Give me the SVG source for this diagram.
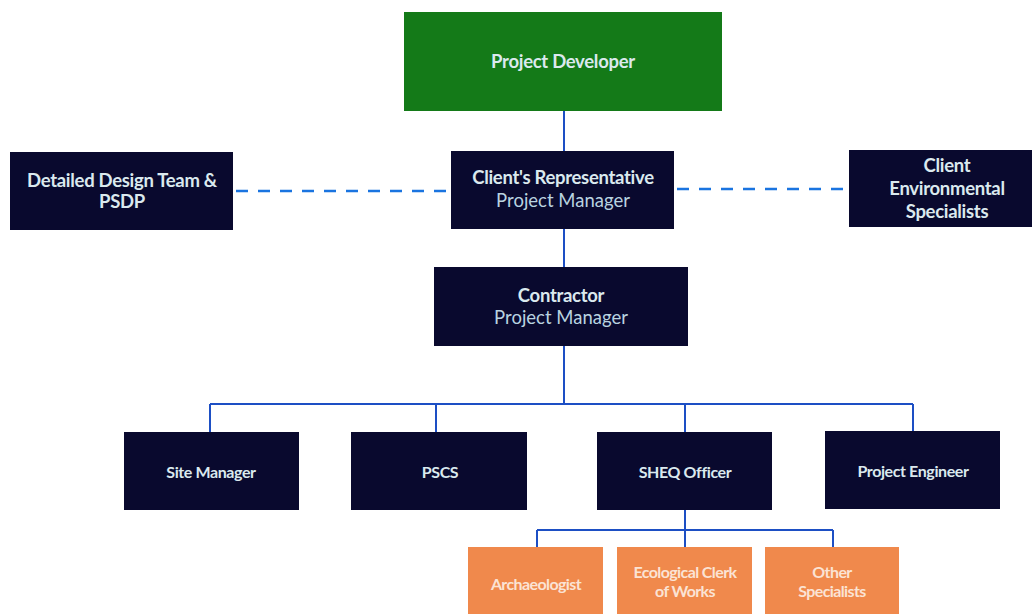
<svg xmlns="http://www.w3.org/2000/svg" width="1034" height="614" viewBox="0 0 1034 614">
<style>
.navy{fill:#09092e}
.green{fill:#147a18}
.orange{fill:#f0894c}
text{font-family:Lato,"Open Sans","Liberation Sans",sans-serif;text-anchor:middle;fill:#dbe9ee}
.b{font-weight:bold;font-size:18.5px;letter-spacing:-0.3px}
.r{font-size:18.5px;fill:#b9d3e0}
.s{font-weight:bold;font-size:16px;letter-spacing:-0.4px}
.o{font-weight:bold;font-size:16px;fill:#fbe3d4;letter-spacing:-0.6px}
.ln{stroke:#1d4fc4;stroke-width:2;fill:none}
.dash{stroke:#1a74e0;stroke-width:2.5;fill:none;stroke-dasharray:12 10}
</style>
<rect width="1034" height="614" fill="#ffffff"/>
<g id="connectors">
<path class="ln" d="M564 111V151M564 229V267M564 346V404M210 404H913M210 404V432M436 404V432M685 404V432M913 404V432M685 510V530M537 530H833M537 530V547M685 530V547M833 530V547"/>
<path class="dash" d="M236 191H449"/>
<path class="dash" d="M677 189H847"/>
</g>
<g id="project-developer"><rect class="green" x="404" y="12" width="318" height="99"/><text class="b" x="563" y="68">Project Developer</text></g>
<g id="clients-representative"><rect class="navy" x="451" y="151" width="223" height="78"/><text class="b" x="563" y="184">Client's Representative</text><text class="r" x="563" y="207">Project Manager</text></g>
<g id="design-team"><rect class="navy" x="10" y="152" width="223" height="78"/><text class="b" x="122" y="187">Detailed Design Team &amp;</text><text class="b" x="122" y="208">PSDP</text></g>
<g id="client-env"><rect class="navy" x="849" y="150" width="183" height="77"/><text class="b" x="947" y="172">Client</text><text class="b" x="947" y="195">Environmental</text><text class="b" x="947" y="218">Specialists</text></g>
<g id="contractor"><rect class="navy" x="434" y="267" width="254" height="79"/><text class="b" x="561" y="302">Contractor</text><text class="r" x="561" y="324">Project Manager</text></g>
<g id="site-manager"><rect class="navy" x="124" y="432" width="175" height="78"/><text class="s" x="211" y="478">Site Manager</text></g>
<g id="pscs"><rect class="navy" x="351" y="432" width="176" height="78"/><text class="s" x="440" y="478">PSCS</text></g>
<g id="sheq-officer"><rect class="navy" x="597" y="432" width="175" height="78"/><text class="s" x="685" y="478">SHEQ Officer</text></g>
<g id="project-engineer"><rect class="navy" x="825" y="431" width="175" height="78"/><text class="s" x="913" y="477">Project Engineer</text></g>
<g id="archaeologist"><rect class="orange" x="468" y="547" width="135" height="67"/><text class="o" x="536" y="590">Archaeologist</text></g>
<g id="ecological-clerk"><rect class="orange" x="617" y="547" width="135" height="67"/><text class="o" x="685" y="578">Ecological Clerk</text><text class="o" x="685" y="597">of Works</text></g>
<g id="other-specialists"><rect class="orange" x="765" y="547" width="134" height="67"/><text class="o" x="832" y="578">Other</text><text class="o" x="832" y="597">Specialists</text></g>
</svg>
